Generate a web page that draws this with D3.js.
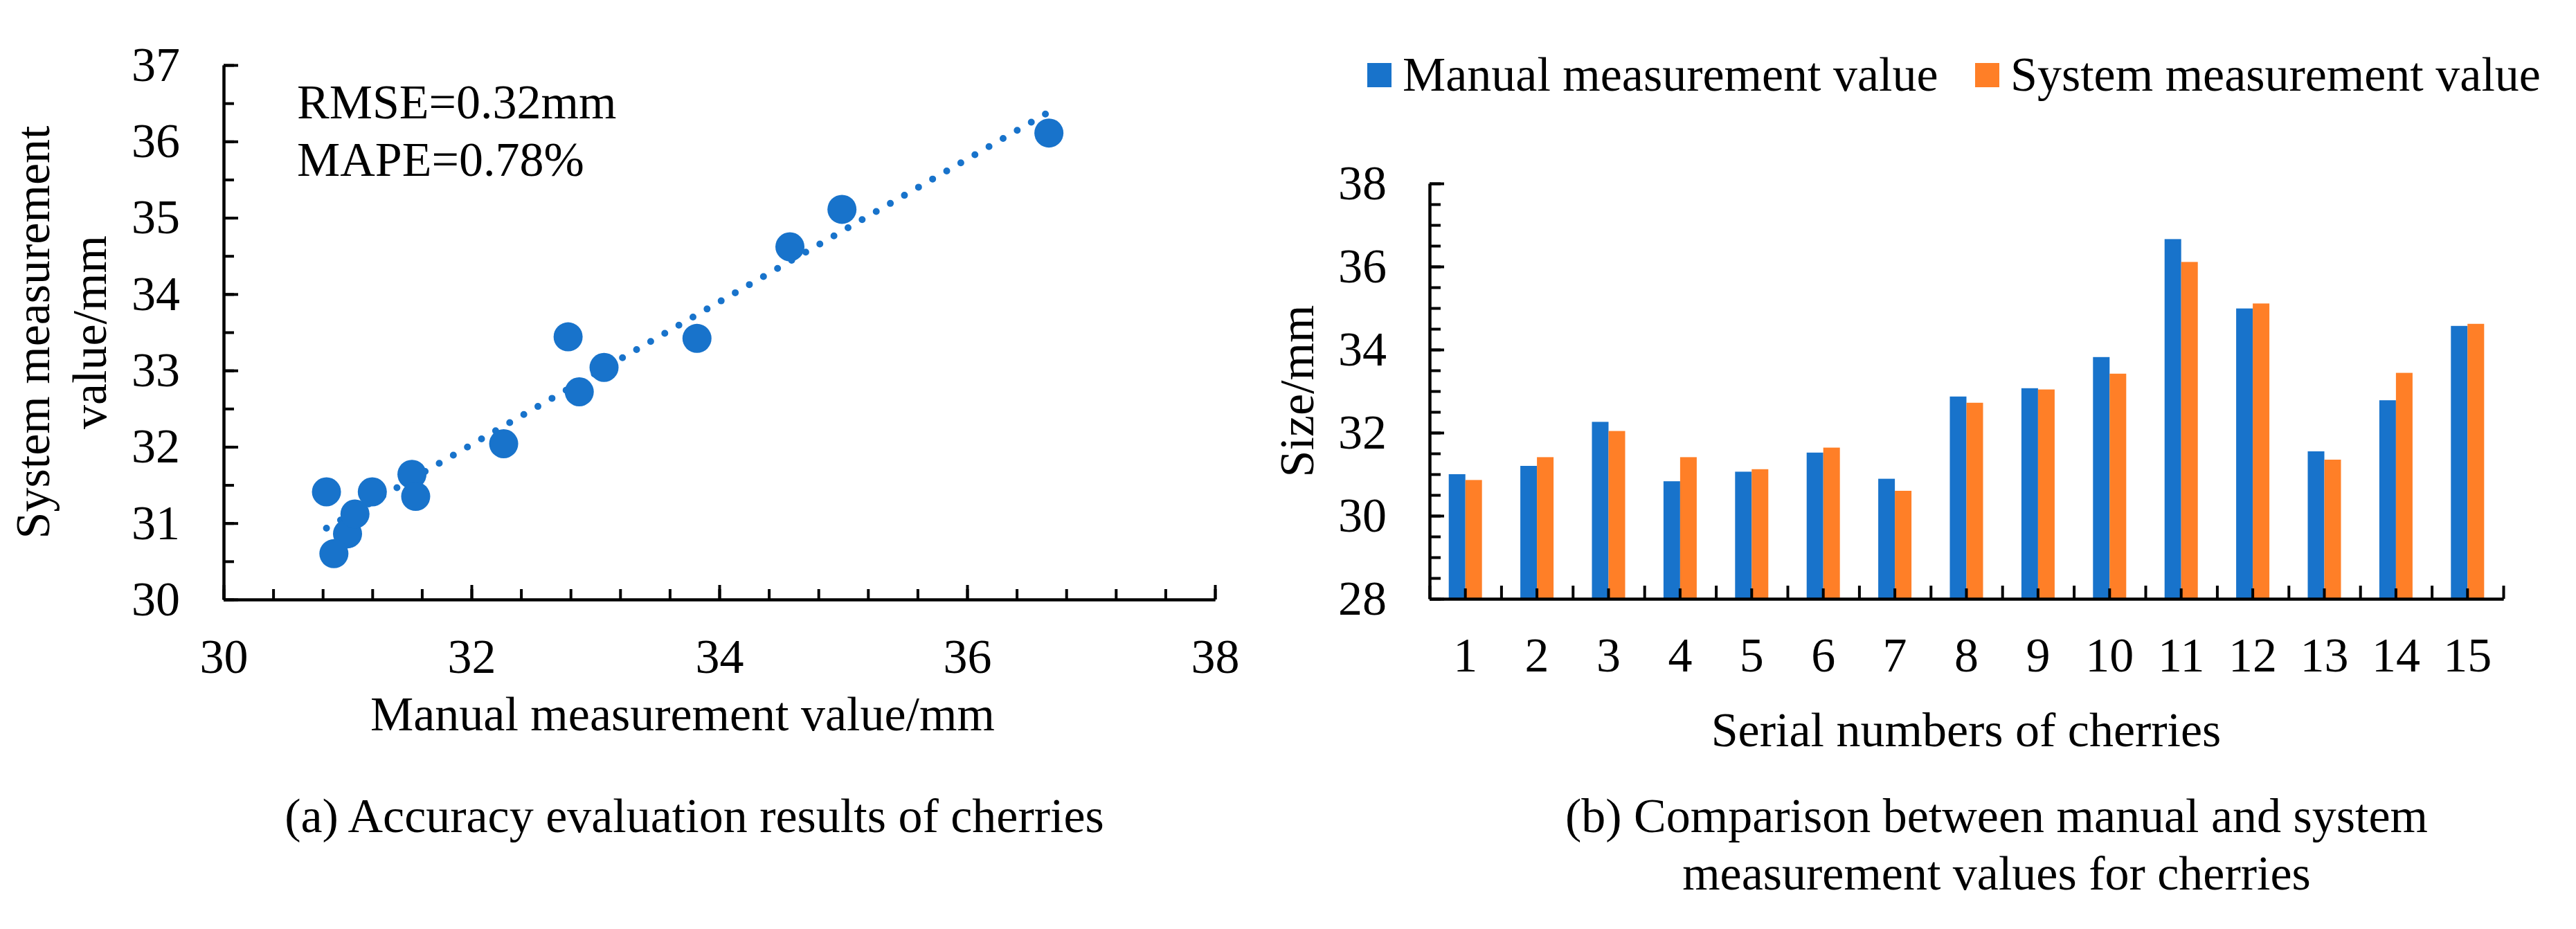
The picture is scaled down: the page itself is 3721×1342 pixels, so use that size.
<!DOCTYPE html>
<html>
<head>
<meta charset="utf-8">
<script src="https://cdn.jsdelivr.net/npm/d3@7"></script>
<style>
  body { margin: 0; background: #fff; }
  text { font-family: "Liberation Serif", "Times New Roman", serif; fill: #000; }
</style>
</head>
<body>
<svg></svg>
<script>
// cherries 1..15
let cherries = ["1", "2", "3", "4", "5", "6", "7", "8", "9", "10", "11", "12", "13", "14", "15"]
let manualValues = [31.00, 31.20, 32.26, 30.83, 31.06, 31.52, 30.89, 32.87, 33.07, 33.82, 36.66, 34.99, 31.55, 32.78, 34.57]
let systemValues = [30.86, 31.41, 32.04, 31.41, 31.12, 31.64, 30.60, 32.72, 33.04, 33.42, 36.11, 35.11, 31.35, 33.44, 34.62]
let seriesNames = ["Manual measurement value", "System measurement value"]
let scatterXTicks = [30, 32, 34, 36, 38]
let scatterYTicks = [30, 31, 32, 33, 34, 35, 36, 37]
let barYTicks = [28, 30, 32, 34, 36, 38]
let statsLines = ["RMSE=0.32mm", "MAPE=0.78%"]

let width = 3721
let height = 1342
let blue = "#1873cb"
let orange = "#ff7f27"
let fontSize = 70

let svg = d3.select("svg")
    .attr("width", width)
    .attr("height", height)

svg.append("rect").attr("width", width).attr("height", height).attr("fill", "#fff")

let styleAxis = (g) => {
    g.select(".domain").attr("stroke", "#000").attr("stroke-width", 4)
    g.selectAll(".tick line").attr("stroke", "#000").attr("stroke-width", 4)
    g.selectAll(".tick text").attr("font-size", fontSize).attr("font-family", "Liberation Serif")
}

// ---------- (a) scatter ----------
let points = manualValues.map((m, i) => ({ x: m, y: systemValues[i] }))

let xScaleA = d3.scaleLinear().domain([30, 38]).range([323, 1755])
let yScaleA = d3.scaleLinear().domain([30, 37]).range([866, 94])

let chartA = svg.append("g")

// minor ticks
chartA.append("g")
    .attr("transform", "translate(0," + yScaleA(30) + ")")
    .call(d3.axisBottom(xScaleA).tickValues(d3.range(0, 21).map(i => 30 + i * 0.4)).tickSize(-15).tickSizeOuter(0).tickFormat(""))
    .call(styleAxis)
chartA.append("g")
    .attr("transform", "translate(" + xScaleA(30) + ",0)")
    .call(d3.axisLeft(yScaleA).tickValues(d3.range(0, 15).map(i => 30 + i * 0.5)).tickSize(-15).tickSizeOuter(0).tickFormat(""))
    .call(styleAxis)

// major ticks + labels
chartA.append("g")
    .attr("transform", "translate(0," + yScaleA(30) + ")")
    .call(d3.axisBottom(xScaleA).tickValues(scatterXTicks).tickSize(-21).tickSizeOuter(0).tickPadding(56).tickFormat(d3.format("d")))
    .call(styleAxis)
chartA.append("g")
    .attr("transform", "translate(" + xScaleA(30) + ",0)")
    .call(d3.axisLeft(yScaleA).tickValues(scatterYTicks).tickSize(-21).tickSizeOuter(0).tickPadding(63).tickFormat(d3.format("d")))
    .call(styleAxis)

// linear trendline (least squares) over the x range of the data
let mx = d3.mean(points, d => d.x)
let my = d3.mean(points, d => d.y)
let slope = d3.sum(points, d => (d.x - mx) * (d.y - my)) / d3.sum(points, d => (d.x - mx) * (d.x - mx))
let intercept = my - slope * mx
let xExtent = d3.extent(points, d => d.x)
let trend = xExtent.map(x => ({ x: x, y: intercept + slope * x }))

chartA.append("path")
    .datum(trend)
    .attr("d", d3.line().x(d => xScaleA(d.x)).y(d => yScaleA(d.y)))
    .attr("fill", "none")
    .attr("stroke", blue)
    .attr("stroke-width", 10)
    .attr("stroke-linecap", "round")
    .attr("stroke-dasharray", "0,23.5")

chartA.selectAll("circle.pt")
    .data(points)
    .enter()
    .append("circle")
    .attr("class", "pt")
    .attr("cx", d => xScaleA(d.x))
    .attr("cy", d => yScaleA(d.y))
    .attr("r", 21)
    .attr("fill", blue)

chartA.selectAll("text.stat")
    .data(statsLines)
    .enter()
    .append("text")
    .attr("class", "stat")
    .attr("x", 429)
    .attr("y", (d, i) => 171 + i * 83)
    .attr("font-size", fontSize)
    .text(d => d)

let yTitleA = ["System measurement", "value/mm"]
chartA.selectAll("text.ytitle")
    .data(yTitleA)
    .enter()
    .append("text")
    .attr("class", "ytitle")
    .attr("transform", (d, i) => "translate(" + (71 + i * 82) + ",480) rotate(-90)")
    .attr("text-anchor", "middle")
    .attr("font-size", fontSize)
    .text(d => d)

chartA.append("text")
    .attr("x", 986)
    .attr("y", 1055)
    .attr("text-anchor", "middle")
    .attr("font-size", fontSize)
    .text("Manual measurement value/mm")

chartA.append("text")
    .attr("x", 1003)
    .attr("y", 1202)
    .attr("text-anchor", "middle")
    .attr("font-size", fontSize)
    .text("(a) Accuracy evaluation results of cherries")

// ---------- (b) grouped bars ----------
let xScaleB = d3.scaleBand().domain(cherries).range([2065, 3616]).paddingInner(0).paddingOuter(0)
let xEdges = d3.scaleLinear().domain([0, cherries.length]).range([2065, 3616])
let barW = 24
let xSub = d3.scaleBand().domain(seriesNames)
    .range([xScaleB.bandwidth() / 2 - barW, xScaleB.bandwidth() / 2 + barW])
let yScaleB = d3.scaleLinear().domain([28, 38]).range([865, 265])
let colors = d3.scaleOrdinal().domain(seriesNames).range([blue, orange])

let chartB = svg.append("g")

let rows = cherries.map((c, i) => ({ cherry: c, values: [manualValues[i], systemValues[i]] }))

chartB.selectAll("g.grp")
    .data(rows)
    .enter()
    .append("g")
    .attr("class", "grp")
    .attr("transform", d => "translate(" + xScaleB(d.cherry) + ",0)")
    .selectAll("rect")
    .data(d => d.values.map((v, k) => ({ key: seriesNames[k], value: v })))
    .enter()
    .append("rect")
    .attr("x", d => xSub(d.key))
    .attr("width", xSub.bandwidth())
    .attr("y", d => yScaleB(d.value))
    .attr("height", d => yScaleB(28) - yScaleB(d.value))
    .attr("fill", d => colors(d.key))

// y axis: minor then major
chartB.append("g")
    .attr("transform", "translate(2065,0)")
    .call(d3.axisLeft(yScaleB).tickValues(d3.range(0, 21).map(i => 28 + i * 0.5)).tickSize(-16).tickSizeOuter(0).tickFormat(""))
    .call(styleAxis)
chartB.append("g")
    .attr("transform", "translate(2065,0)")
    .call(d3.axisLeft(yScaleB).tickValues(barYTicks).tickSize(-21).tickSizeOuter(0).tickPadding(62).tickFormat(d3.format("d")))
    .call(styleAxis)

// x axis: category edges and centres
chartB.append("g")
    .attr("transform", "translate(0," + yScaleB(28) + ")")
    .call(d3.axisBottom(xEdges).tickValues(d3.range(0, cherries.length + 1)).tickSize(-19).tickSizeOuter(0).tickFormat(""))
    .call(styleAxis)
chartB.append("g")
    .attr("transform", "translate(0," + yScaleB(28) + ")")
    .call(d3.axisBottom(xScaleB).tickSize(-15).tickSizeOuter(0).tickPadding(55))
    .call(styleAxis)

chartB.append("text")
    .attr("transform", "translate(1897,565) rotate(-90)")
    .attr("text-anchor", "middle")
    .attr("font-size", fontSize)
    .text("Size/mm")

chartB.append("text")
    .attr("x", 2840)
    .attr("y", 1078)
    .attr("text-anchor", "middle")
    .attr("font-size", fontSize)
    .text("Serial numbers of cherries")

let captionB = ["(b) Comparison between manual and system", "measurement values for cherries"]
chartB.selectAll("text.cap")
    .data(captionB)
    .enter()
    .append("text")
    .attr("class", "cap")
    .attr("x", 2884)
    .attr("y", (d, i) => 1202 + i * 83)
    .attr("text-anchor", "middle")
    .attr("font-size", fontSize)
    .text(d => d)

// legend
let legendX = [1975, 2853]
let legend = chartB.selectAll("g.legend")
    .data(seriesNames)
    .enter()
    .append("g")
    .attr("class", "legend")
    .attr("transform", (d, i) => "translate(" + legendX[i] + ",0)")

legend.append("rect")
    .attr("x", 0)
    .attr("y", 91)
    .attr("width", 35)
    .attr("height", 35)
    .attr("fill", d => colors(d))

legend.append("text")
    .attr("x", 51)
    .attr("y", 131)
    .attr("font-size", fontSize)
    .text(d => d)
</script>
</body>
</html>
